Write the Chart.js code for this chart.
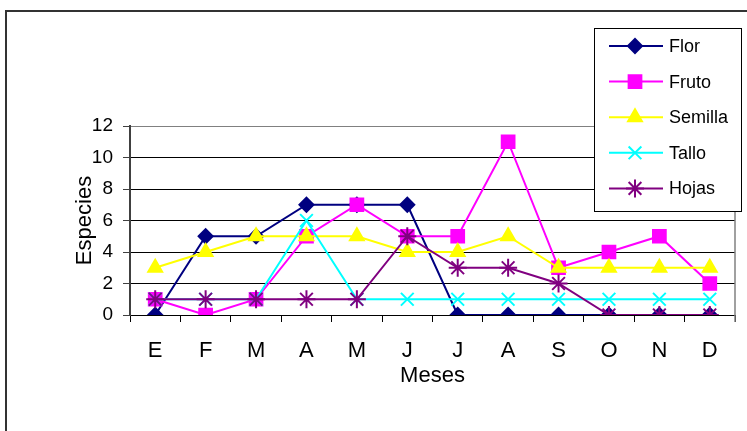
<!DOCTYPE html>
<html lang="es">
<head>
<meta charset="UTF-8">
<title>Especies por mes</title>
<style>
  html, body { margin: 0; padding: 0; background: #fff; }
  #wrap { position: relative; width: 747px; height: 431px; }
</style>
</head>
<body>
<div id="wrap"><canvas id="chart"></canvas></div>

<script src="https://cdn.jsdelivr.net/npm/chart.js"></script>
<script>
  // data
  const meses = ['E', 'F', 'M', 'A', 'M', 'J', 'J', 'A', 'S', 'O', 'N', 'D'];
  const flor    = [0, 5, 5, 7, 7, 7, 0, 0, 0, 0, 0, 0];
  const fruto   = [1, 0, 1, 5, 7, 5, 5, 11, 3, 4, 5, 2];
  const semilla = [3, 4, 5, 5, 5, 4, 4, 5, 3, 3, 3, 3];
  const tallo   = [1, 1, 1, 6, 1, 1, 1, 1, 1, 1, 1, 1];
  const hojas   = [1, 1, 1, 1, 1, 5, 3, 3, 2, 0, 0, 0];
  const yTicks  = [0, 2, 4, 6, 8, 10, 12];

  const FONT = "'Liberation Sans', Arial, sans-serif";
  Chart.defaults.font.family = FONT;
  Chart.defaults.color = '#000';

  function serie(label, data, color, style, radius, order) {
    return {
      label, data, order,
      borderColor: color,
      backgroundColor: color,
      pointBackgroundColor: color,
      pointBorderColor: color,
      pointStyle: style,
      pointRadius: radius,
      pointBorderWidth: 2,
      borderWidth: 2,
      tension: 0,
    };
  }

  // page frame + gray plot area edge
  const frame = {
    id: 'frame',
    beforeDraw(chart) {
      const { ctx } = chart;
      ctx.save();
      ctx.fillStyle = '#fff';
      ctx.fillRect(0, 0, chart.width, chart.height);
      ctx.strokeStyle = '#333';
      ctx.lineWidth = 2;
      ctx.beginPath();
      ctx.moveTo(6, chart.height);
      ctx.lineTo(6, 11);
      ctx.lineTo(chart.width, 11);
      ctx.stroke();
      ctx.restore();
    },
    afterDatasetsDraw(chart) {
      const { ctx, chartArea: a } = chart;
      ctx.save();
      ctx.strokeStyle = '#808080';
      ctx.lineWidth = 1.5;
      ctx.beginPath();
      ctx.moveTo(a.right, a.top);
      ctx.lineTo(a.right, a.bottom + 7);
      ctx.stroke();
      ctx.restore();
    }
  };

  // boxed legend sitting over the top right corner
  const boxLegend = {
    id: 'boxLegend',
    afterDraw(chart) {
      const { ctx } = chart;
      const x0 = 594, y0 = 28, w = 147, h = 183;
      ctx.save();
      ctx.fillStyle = '#fff';
      ctx.fillRect(x0, y0, w, h);
      ctx.strokeStyle = '#000';
      ctx.lineWidth = 1;
      ctx.strokeRect(x0 + 0.5, y0 + 0.5, w, h);
      chart.data.datasets.forEach((ds, i) => {
        const y = 46 + i * 35.6;
        ctx.strokeStyle = ds.borderColor;
        ctx.fillStyle = ds.backgroundColor;
        ctx.lineWidth = 2;
        ctx.beginPath();
        ctx.moveTo(609, y);
        ctx.lineTo(663, y);
        ctx.stroke();
        Chart.helpers.drawPoint(ctx, {
          pointStyle: ds.pointStyle,
          radius: ds.pointRadius,
          borderWidth: 2,
          rotation: 0
        }, 635, y);
        ctx.fillStyle = '#000';
        ctx.font = '18px ' + FONT;
        ctx.textBaseline = 'middle';
        ctx.textAlign = 'left';
        ctx.fillText(ds.label, 669, y + 1);
      });
      ctx.restore();
    }
  };

  new Chart(document.getElementById('chart'), {
    type: 'line',
    data: {
      labels: meses,
      datasets: [
        serie('Flor', flor, '#000080', 'rectRot', 7, 4),
        serie('Fruto', fruto, '#ff00ff', 'rect', 9, 3),
        serie('Semilla', semilla, '#ffff00', 'triangle', 8, 2),
        serie('Tallo', tallo, '#00ffff', 'crossRot', 9, 1),
        serie('Hojas', hojas, '#800080', 'star', 9, 0),
      ],
    },
    options: {
      responsive: true,
      maintainAspectRatio: false,
      animation: false,
      layout: { padding: { left: 68, right: 12, top: 126, bottom: 38 } },
      plugins: {
        legend: { display: false },
        tooltip: { enabled: false },
      },
      scales: {
        x: {
          offset: true,
          grid: {
            offset: true,
            drawOnChartArea: false,
            tickLength: 7,
            tickColor: '#000',
          },
          border: { color: '#000', width: 1 },
          ticks: {
            color: '#000',
            font: { size: 22 },
            padding: 16,
            autoSkip: false,
            maxRotation: 0,
          },
          title: {
            display: true,
            text: 'Meses',
            color: '#000',
            font: { size: 22 },
            padding: { top: 0, bottom: 4 },
          },
          afterFit(s) { s.height = 78; },
        },
        y: {
          min: 0,
          max: 12,
          afterBuildTicks(s) { s.ticks = yTicks.map(v => ({ value: v })); },
          grid: {
            color: c => (c.tick && c.tick.value === 12 ? '#808080' : '#000'),
            tickLength: 7,
            tickColor: '#404040',
          },
          border: { color: '#404040', width: 2 },
          ticks: {
            color: '#000',
            font: { size: 19 },
            padding: 10,
          },
          title: {
            display: true,
            text: 'Especies',
            color: '#000',
            font: { size: 22 },
            padding: { top: 4, bottom: 4 },
          },
          afterFit(s) { s.width = 62; },
        },
      },
    },
    plugins: [frame, boxLegend],
  });
</script>
</body>
</html>
